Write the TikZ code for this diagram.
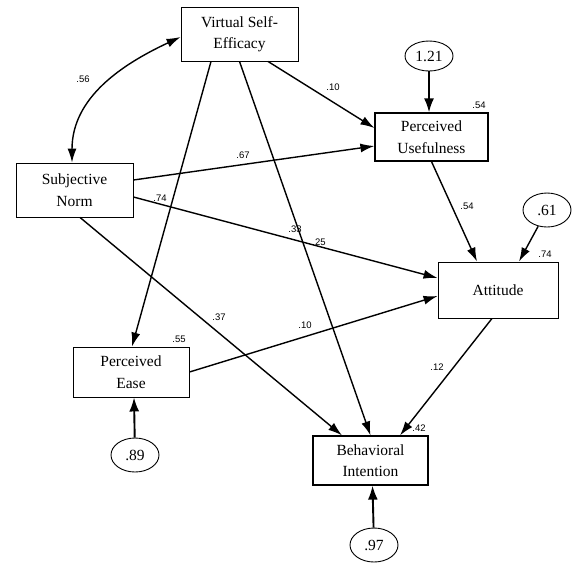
\documentclass[tikz,border=0pt]{standalone}
\usepackage{fontspec}
\setmainfont{Liberation Serif}
\newfontfamily\labfont{Liberation Sans}
\usetikzlibrary{shapes.geometric,arrows.meta}
\begin{document}
\begin{tikzpicture}[x=1pt,y=1pt,
 box/.style={draw,line width=0.9pt,align=center,font=\fontsize{15.5}{21.5}\selectfont,inner sep=0pt},
 err/.style={draw,ellipse,line width=0.9pt,inner sep=0pt,minimum width=48pt,minimum height=34pt,font=\fontsize{15.5}{16}\selectfont},
 conn/.style={line width=1.4pt,-{Latex[length=14pt,width=9pt]}},
 econn/.style={line width=1.9pt,-{Latex[length=14pt,width=10pt]}},
 lab/.style={font=\labfont\fontsize{9.5}{11}\selectfont,inner sep=0pt}]
\useasboundingbox (0,0) rectangle (580,-574);
\node[box,minimum width=117pt,minimum height=54pt] (vse) at (239.5,-34) {Virtual Self-\\Efficacy};
\node[box,minimum width=117pt,minimum height=54pt] (sn) at (74.5,-190) {Subjective\\Norm};
\node[box,line width=1.2pt,minimum width=113pt,minimum height=48pt] (pu) at (431.5,-137) {Perceived\\Usefulness};
\node[box,minimum width=120pt,minimum height=56pt] (att) at (498,-290) {Attitude};
\node[box,minimum width=116pt,minimum height=50pt] (pe) at (131,-372) {Perceived\\Ease};
\node[box,line width=1.2pt,minimum width=115pt,minimum height=49pt] (bi) at (370.5,-460.5) {Behavioral\\Intention};
\node[err,minimum height=30pt] (e1) at (429,-56) {1.21};
\node[err] (e2) at (547,-210) {.61};
\node[err] (e3) at (135,-455) {.89};
\node[err] (e4) at (374,-545) {.97};
% connectors
\draw[line width=1.4pt,{Latex[length=14pt,width=9pt]}-{Latex[length=14pt,width=9pt]}] ([xshift=-2.5pt]sn.north) to[out=90,in=205] ([yshift=-3pt]vse.west);
\draw[conn] ([xshift=-28.5pt]vse.south) -- ([xshift=1pt]pe.north);
\draw[conn] (vse.south) -- (bi.north);
\draw[conn] ([xshift=28.5pt]vse.south) -- ([yshift=9pt]pu.west);
\draw[conn] ([yshift=10pt]sn.east) -- ([yshift=-9pt]pu.west);
\draw[conn] ([yshift=-7pt]sn.east) -- ([yshift=12pt]att.west);
\draw[conn] ([xshift=5.5pt]sn.south) -- ([xshift=-28.5pt]bi.north);
\draw[conn] (pe.east) -- ([yshift=-6pt]att.west);
\draw[conn] (pu.south) -- ([xshift=-21pt]att.north);
\draw[conn] ([xshift=-6pt]att.south) -- ([xshift=29.5pt]bi.north);
\draw[econn] (e1) -- (pu.north -| e1);
\draw[conn] (e2) -- ([xshift=21pt]att.north);
\draw[econn] (e3) -- ([xshift=3pt]pe.south);
\draw[econn] (e4) -- ([xshift=2pt]bi.south);
% labels
\node[lab] (l56) at (83,-79) {.56};
\node[lab] (l10a) at (333,-87) {.10};
\node[lab] (l54a) at (479,-105) {.54};
\node[lab] (l67) at (243,-155) {.67};
\node[lab] (l74a) at (160,-198) {.74};
\node[lab] (l54b) at (467,-206) {.54};
\node[lab] (l33) at (295,-229) {.33};
\node[lab] (l25) at (319,-242) {.25};
\node[lab] (l74b) at (545,-254) {.74};
\node[lab] (l37) at (219,-317) {.37};
\node[lab] (l10b) at (305,-325) {.10};
\node[lab] (l55) at (179,-339) {.55};
\node[lab] (l12) at (437,-367) {.12};
\node[lab] (l42) at (419,-428) {.42};
\end{tikzpicture}
\end{document}
